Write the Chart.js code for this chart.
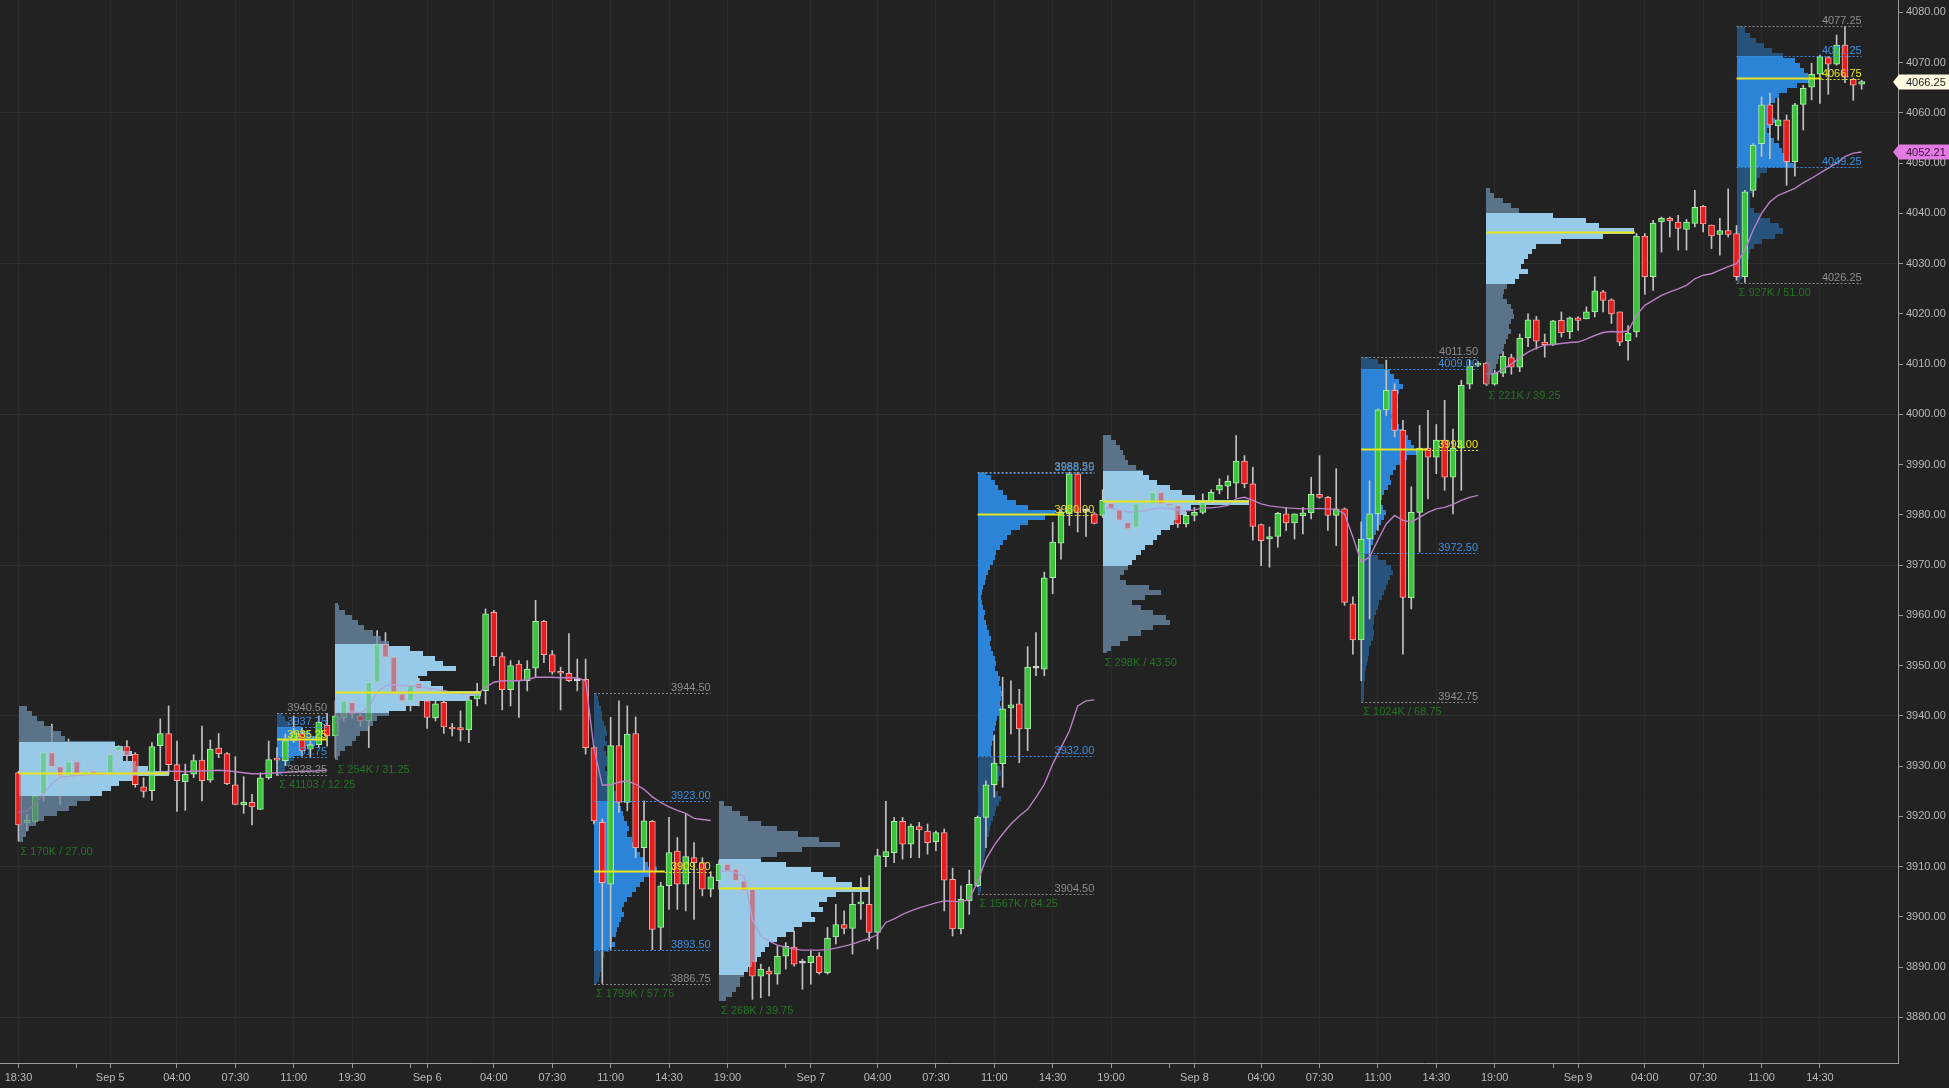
<!DOCTYPE html>
<html>
<head>
<meta charset="utf-8">
<title>ES 30m – volume profile</title>
<script src="https://cdn.jsdelivr.net/npm/chart.js@4.4.1/dist/chart.umd.min.js"></script>
<style>
html,body{margin:0;padding:0;background:#222222;overflow:hidden;}
canvas{display:block;}
</style>
</head>
<body>
<canvas id="c" width="1949" height="1088"></canvas>
<script>
// ---------- candle data (30 min bars, index 0 = Sep 4 18:30) ----------
const openP = [3928.7,3918.7,3919.0,3924.4,3932.7,3929.9,3928.1,3930.9,3928.5,3929.0,
3928.3,3928.7,3933.1,3933.9,3932.4,3925.9,3925.1,3934.1,3936.5,3930.3,
3926.9,3928.4,3931.2,3927.2,3933.6,3932.5,3926.3,3922.3,3922.8,3921.4,
3927.7,3931.6,3931.1,3935.1,3936.5,3933.4,3934.3,3938.2,3936.0,3939.7,
3942.7,3940.0,3939.0,3946.7,3954.3,3951.7,3944.4,3943.0,3946.5,3943.0,
3939.6,3942.7,3937.8,3937.7,3937.2,3943.4,3945.0,3960.6,3951.8,3945.2,
3950.3,3947.0,3949.5,3958.8,3952.2,3948.7,3948.5,3947.0,3947.3,3933.7,
3918.8,3906.5,3934.1,3922.8,3936.5,3913.8,3919.0,3897.9,3906.2,3913.1,
3906.5,3911.8,3910.8,3905.5,3907.2,3910.5,3909.5,3907.2,3905.5,3888.2,
3889.2,3888.6,3892.2,3894.0,3890.9,3890.9,3892.2,3888.9,3896.0,3898.5,
3897.7,3902.6,3902.5,3896.9,3912.0,3912.8,3919.0,3914.5,3918.0,3917.1,
3915.0,3916.8,3907.5,3897.6,3903.2,3906.2,3919.8,3926.3,3930.5,3941.6,
3942.4,3937.4,3949.5,3949.3,3967.5,3974.4,3980.2,3988.2,3980.7,3980.2,
3979.9,3982.3,3981.0,3978.5,3977.5,3982.2,3982.2,3984.5,3982.2,3981.9,
3978.2,3979.9,3980.5,3982.5,3984.9,3985.7,3986.3,3990.7,3986.2,3978.1,
3975.2,3975.7,3980.2,3978.4,3979.8,3980.4,3984.1,3983.5,3979.9,3981.2,
3962.3,3955.1,3975.2,3980.2,4000.9,4004.8,3996.9,3963.5,3980.5,3993.3,
3991.5,3994.9,3987.5,3993.3,4006.0,4009.8,4010.2,4006.0,4008.2,4011.3,
4009.4,4015.2,4018.8,4014.4,4013.9,4018.7,4016.4,4019.2,4019.0,4020.4,
4024.4,4022.8,4020.4,4014.7,4016.4,4035.5,4027.4,4038.3,4039.0,4038.3,
4036.8,4038.0,4041.4,4037.7,4035.8,4036.6,4036.0,4027.4,4044.6,4053.9,
4061.6,4057.4,4058.6,4050.3,4061.7,4065.1,4067.7,4071.0,4069.7,4073.5,
4066.7,4065.7];
const highP = [3929.0,3920.4,3924.4,3933.1,3938.4,3930.4,3935.4,3933.7,3932.0,3930.5,
3929.5,3934.0,3934.1,3935.1,3932.7,3927.7,3934.7,3939.4,3942.0,3935.0,
3930.4,3932.3,3938.0,3935.2,3936.5,3932.7,3931.9,3927.9,3924.4,3928.7,
3935.0,3933.7,3936.4,3940.0,3937.7,3935.0,3940.0,3940.5,3943.0,3944.0,
3943.5,3941.0,3947.5,3957.0,3956.6,3952.2,3946.0,3947.5,3947.5,3943.5,
3943.0,3943.0,3938.5,3941.0,3944.4,3946.5,3961.3,3961.0,3952.6,3951.0,
3951.0,3951.0,3963.0,3959.0,3953.0,3949.7,3956.4,3951.3,3951.3,3934.0,
3919.5,3939.7,3943.0,3942.0,3939.8,3923.1,3919.2,3906.9,3919.8,3915.8,
3920.4,3914.8,3911.8,3909.0,3911.2,3911.5,3910.5,3910.0,3907.5,3890.6,
3890.0,3894.2,3894.9,3897.2,3891.6,3893.2,3892.9,3897.9,3902.5,3901.2,
3904.8,3907.8,3908.2,3913.5,3923.0,3919.8,3919.8,3918.5,3918.8,3918.5,
3917.1,3917.5,3909.7,3906.2,3909.3,3920.1,3927.1,3936.2,3947.7,3947.0,
3945.3,3953.8,3956.6,3968.6,3978.5,3981.2,3988.5,3988.5,3981.2,3980.5,
3985.0,3982.8,3981.5,3979.0,3984.8,3983.5,3986.2,3985.5,3983.5,3983.0,
3980.5,3981.5,3984.2,3985.0,3987.2,3987.8,3995.8,3991.8,3989.5,3978.2,
3977.6,3980.5,3981.5,3980.2,3981.5,3987.5,3991.8,3983.7,3989.2,3981.4,
3963.7,3978.6,3986.8,4001.1,4010.8,4006.1,3998.8,3985.6,3997.8,4000.8,
3998.0,4002.8,3997.1,4006.8,4010.8,4010.5,4010.4,4008.8,4012.5,4012.0,
4016.0,4020.0,4019.5,4016.0,4018.7,4020.4,4019.4,4019.4,4021.4,4027.4,
4024.7,4023.0,4020.4,4017.7,4036.0,4036.0,4038.6,4039.3,4039.3,4039.6,
4038.8,4044.6,4041.6,4037.7,4039.0,4044.9,4037.6,4044.6,4053.9,4063.2,
4063.9,4062.9,4059.6,4061.9,4065.5,4069.9,4071.5,4071.2,4075.5,4077.25,
4066.9,4066.5];
const lowP = [3915.1,3917.1,3918.8,3923.0,3927.7,3922.4,3927.0,3927.0,3926.5,3927.5,
3927.2,3928.1,3929.7,3931.1,3925.8,3923.8,3923.2,3928.4,3928.4,3921.0,
3921.2,3927.7,3923.1,3926.8,3931.7,3926.3,3922.3,3920.6,3918.3,3921.4,
3927.4,3928.1,3930.1,3934.7,3932.0,3931.7,3933.7,3934.0,3931.7,3939.0,
3939.5,3938.0,3933.7,3946.3,3949.7,3944.0,3942.0,3941.0,3942.0,3937.5,
3939.0,3936.5,3936.0,3935.0,3934.7,3942.0,3942.4,3950.0,3941.2,3942.0,
3939.7,3945.0,3947.7,3950.6,3948.3,3941.2,3946.8,3945.0,3932.4,3918.5,
3886.75,3893.5,3920.8,3921.1,3911.8,3909.2,3893.5,3893.5,3901.5,3901.5,
3901.2,3899.5,3904.2,3904.0,3905.5,3908.0,3904.2,3904.2,3883.6,3883.9,
3884.3,3886.6,3889.6,3890.2,3885.6,3886.6,3888.6,3888.6,3894.6,3896.6,
3892.6,3899.5,3895.2,3893.6,3910.0,3910.8,3911.5,3911.8,3911.8,3912.5,
3913.2,3901.2,3896.2,3896.6,3900.5,3906.0,3913.8,3923.8,3925.8,3936.4,
3930.7,3933.1,3948.0,3948.0,3964.3,3971.2,3977.9,3976.6,3975.7,3978.2,
3979.5,3978.9,3978.2,3975.9,3975.9,3981.0,3981.8,3981.5,3980.5,3977.5,
3977.6,3978.8,3980.2,3982.2,3984.2,3983.2,3983.5,3985.4,3975.0,3969.9,
3969.6,3973.6,3976.9,3975.2,3976.2,3979.2,3983.3,3976.9,3973.9,3962.0,
3952.3,3947.0,3959.3,3976.9,3999.8,3995.5,3952.3,3961.3,3972.6,3983.2,
3988.2,3984.9,3980.2,3984.9,4005.1,4009.5,4005.8,4005.8,4007.5,4008.0,
4008.5,4013.5,4013.0,4011.4,4013.7,4015.4,4015.1,4016.7,4019.0,4019.4,
4020.4,4018.1,4013.7,4010.8,4015.4,4023.9,4024.7,4032.3,4035.3,4032.7,
4032.7,4037.3,4036.3,4033.0,4031.7,4035.3,4026.7,4026.25,4043.3,4051.3,
4050.9,4054.6,4045.6,4047.4,4056.6,4062.6,4061.9,4063.7,4069.5,4066.0,
4062.5,4064.7];
const closeP = [3918.3,3919.2,3924.1,3932.7,3929.9,3928.1,3930.9,3928.5,3929.0,3928.3,
3928.6,3932.3,3933.9,3932.1,3926.3,3925.0,3933.9,3936.5,3930.3,3927.1,
3928.4,3931.1,3927.1,3933.4,3932.5,3926.5,3922.4,3922.8,3921.9,3927.7,
3931.3,3931.2,3935.1,3936.7,3933.1,3934.3,3938.7,3936.0,3940.0,3943.0,
3940.4,3939.0,3946.7,3954.3,3951.7,3944.4,3943.0,3946.3,3945.4,3939.7,
3942.4,3937.8,3937.4,3937.2,3943.2,3944.7,3960.3,3951.8,3945.2,3950.0,
3947.0,3949.3,3958.8,3952.2,3948.7,3948.5,3947.0,3947.1,3933.7,3919.1,
3906.8,3934.1,3922.8,3936.4,3913.8,3919.1,3897.5,3906.2,3912.8,3906.5,
3912.0,3910.8,3905.5,3908.0,3910.5,3909.2,3907.2,3905.2,3888.2,3889.6,
3888.6,3892.2,3894.2,3890.6,3890.8,3892.2,3888.9,3895.8,3898.5,3897.7,
3902.5,3902.8,3896.9,3912.2,3913.0,3919.0,3914.5,3918.1,3917.3,3914.8,
3916.8,3907.3,3897.6,3903.5,3906.5,3919.8,3926.3,3930.6,3941.4,3942.2,
3937.4,3949.7,3949.6,3967.5,3974.6,3980.5,3988.2,3980.5,3980.8,3978.3,
3982.9,3981.2,3978.9,3977.2,3982.2,3982.5,3984.5,3982.2,3981.9,3978.2,
3979.9,3980.5,3982.5,3984.5,3985.9,3986.7,3990.7,3986.2,3977.7,3974.9,
3975.7,3980.3,3978.4,3980.2,3980.4,3984.1,3983.5,3979.9,3981.2,3962.6,
3955.1,3975.2,3980.2,4000.9,4004.8,3996.8,3963.6,3980.5,3993.3,3991.5,
3994.9,3987.5,3993.3,4005.8,4009.6,4010.0,4006.0,4008.2,4011.6,4009.4,
4015.2,4018.8,4014.6,4013.9,4018.6,4016.2,4019.2,4018.7,4020.4,4024.6,
4022.7,4020.0,4014.4,4016.2,4035.5,4027.4,4038.1,4039.0,4038.5,4037.0,
4038.3,4041.2,4037.9,4035.5,4036.6,4035.8,4027.4,4044.3,4053.6,4061.6,
4057.6,4058.6,4050.3,4061.6,4064.9,4067.7,4071.2,4069.7,4073.5,4067.1,
4065.5,4066.25];

// ---------- session VWAP (resets at each Globex session start) ----------
const vwapSessionStart = [0, 38, 84, 130, 176];
const vwap = [3920.8,3921.1,3922.5,3924.5,3926.5,3927.8,3928.0,3928.2,3928.3,3928.4,
3928.4,3928.5,3928.6,3928.7,3928.6,3928.5,3928.6,3928.8,3929.0,3929.0,
3928.9,3929.0,3929.1,3929.1,3929.2,3929.1,3928.9,3928.7,3928.5,3928.5,
3928.6,3928.7,3928.8,3928.9,3929.0,3929.0,3929.1,3929.2,
3938.5,3940.4,3940.8,3940.6,3941.7,3944.7,3946.0,3946.2,3946.0,3946.0,
3946.0,3945.5,3945.3,3945.0,3944.7,3944.4,3944.3,3944.3,3945.7,3946.7,
3947.0,3947.0,3947.0,3947.2,3947.7,3947.7,3947.7,3947.6,3947.6,3947.6,
3947.0,3933.5,3926.2,3926.3,3926.8,3927.1,3926.4,3925.4,3923.9,3922.8,
3921.9,3921.2,3920.6,3919.6,3919.4,3919.2,
3909.0,3909.2,3908.8,3908.0,3899.5,3896.2,3895.2,3894.4,3894.0,3893.6,
3893.4,3893.4,3893.4,3893.5,3893.8,3894.2,3894.6,3895.2,3895.7,3896.5,
3898.9,3899.6,3900.5,3901.2,3901.8,3902.3,3902.8,3903.2,3903.1,3903.0,
3903.5,3907.0,3911.5,3914.3,3916.5,3918.5,3920.1,3921.4,3923.8,3926.4,
3930.4,3933.7,3937.0,3942.0,3943.0,3943.2,
3981.5,3981.3,3981.0,3980.6,3980.6,3980.8,3981.2,3981.4,3981.3,3981.0,
3980.8,3981.0,3981.4,3981.4,3981.6,3981.9,3983.2,3983.5,3982.9,3982.2,
3981.8,3981.6,3981.4,3981.3,3981.2,3981.2,3981.3,3981.2,3981.1,3980.2,
3975.6,3970.6,3971.6,3975.0,3978.2,3979.9,3978.9,3978.6,3979.5,3980.5,
3981.2,3981.5,3982.1,3982.9,3983.5,3983.9,
4008.0,4008.1,4009.0,4010.0,4011.3,4012.4,4013.2,4013.8,4013.9,4014.1,
4014.3,4014.4,4015.0,4015.7,4016.3,4016.5,4016.4,4016.6,4019.7,4021.7,
4022.7,4023.7,4024.4,4025.0,4025.7,4027.0,4027.7,4028.0,4028.7,4029.4,
4030.0,4032.7,4036.7,4040.0,4042.3,4043.6,4044.3,4045.0,4046.1,4047.0,
4048.0,4049.0,4050.0,4051.3,4052.0,4052.21];

// ---------- x axis tick labels ----------
const tickIdx = [0,11,19,26,33,40,49,57,64,71,78,85,95,103,110,117,124,131,141,149,156,163,170,177,187,195,202,209,216];
const tickTxt = ['18:30','Sep 5','04:00','07:30','11:00','19:30','Sep 6','04:00','07:30','11:00','14:30','19:00','Sep 7','04:00','07:30','11:00','14:30','19:00','Sep 8','04:00','07:30','11:00','14:30','19:00','Sep 9','04:00','07:30','11:00','14:30'];
const minorTickIdx = [7,47,92,138,184];
const yTickValues = [3880,3890,3900,3910,3920,3930,3940,3950,3960,3970,3980,3990,4000,4010,4020,4030,4040,4050,4060,4070,4080];

// ---------- volume profiles: relative widths of 1-point price bins, from the top bin down ----------
const prof1 = [1.0,1.5,2.2,3.0,4.0,5.0,5.5,11.5,12.5,13.5,12.5,14.0,15.5,18.0,13.5,12.0,11.0,10.0,8.5,7.0,6.0,4.5,3.0,2.0,1.2,0.8,0.5];
const prof2 = [0.6,1.0,1.6,3.0,4.0,5.0,4.5,3.5,3.0,2.0,1.5,1.0,0.6];
const prof3 = [0.3,0.5,1.2,2.0,2.8,3.5,4.5,5.5,6.5,9.0,10.5,12.0,13.0,14.5,11.0,10.0,11.5,13.0,17.5,16.0,10.0,8.5,6.5,5.0,4.5,4.0,3.0,2.5,2.0,1.2,0.6,0.3];
const prof4 = [0.3,0.5,0.6,0.8,0.9,1.0,1.2,1.4,1.6,1.3,1.5,1.2,1.4,1.6,1.5,1.3,1.6,1.8,2.0,2.3,2.6,2.8,3.0,3.2,3.5,3.6,3.9,4.2,4.0,4.5,4.8,5.2,5.5,6.0,6.5,7.5,7.0,6.0,5.5,5.0,4.5,4.0,3.6,3.3,3.6,3.2,3.0,2.8,2.6,2.2,2.5,1.8,1.2,1.0,0.9,0.8,0.7,0.6,0.4];
const prof5 = [0.6,1.5,2.5,3.5,5.0,7.0,9.5,12.0,14.5,10.0,7.0,5.0,8.0,11.0,12.5,14.0,16.0,18.0,14.0,13.0,12.0,12.5,11.0,11.5,10.0,9.0,8.0,7.0,6.0,5.5,5.0,4.5,4.0,3.5,3.0,2.5,2.5,2.0,1.5,0.8];
const prof6 = [1.0,1.5,2.0,2.4,3.0,3.5,4.5,6.0,9.2,8.0,6.0,5.0,4.0,3.5,3.0,2.6,2.2,2.0,1.8,1.4,1.2,1.0,0.8,0.6,0.5,0.4,0.5,0.6,0.8,0.7,0.9,1.1,1.3,1.5,1.4,1.6,1.8,2.0,2.2,2.0,2.4,2.6,2.5,2.8,3.0,2.8,2.6,2.8,2.5,2.3,2.2,2.0,1.8,1.9,1.7,1.5,1.6,1.8,2.2,2.6,2.8,2.5,2.2,2.0,2.4,2.8,2.5,2.2,2.0,1.8,1.6,1.4,1.3,1.1,1.0,0.9,0.8,0.7,0.6,0.5,0.5,0.4,0.4,0.3,0.2];
const prof7 = [1.0,1.5,2.0,2.4,2.6,3.0,4.0,4.8,5.5,6.5,8.0,9.5,11.0,17.5,10.5,10.0,9.0,8.5,8.0,7.0,6.5,6.0,5.0,4.5,4.0,3.5,3.0,2.5,2.0,2.8,5.5,7.0,5.0,3.5,4.5,6.0,7.5,8.0,6.0,4.5,3.0,2.0,1.0,0.5];
const prof8 = [1.0,2.0,2.8,3.5,4.0,4.5,5.0,4.6,4.2,4.0,4.4,4.0,3.6,4.0,4.6,5.2,5.6,6.0,6.4,7.0,5.5,4.8,4.2,3.8,3.5,3.6,3.2,2.8,2.5,2.2,2.6,3.0,2.8,2.4,2.0,1.8,1.6,1.4,1.2,1.0,2.0,3.0,3.6,3.8,3.5,3.2,3.0,2.8,2.5,2.2,2.0,1.8,1.6,1.5,1.4,1.6,1.4,1.2,1.0,0.9,0.8,0.7,0.6,0.5,0.5,0.4,0.4,0.3,0.3,0.2];
const prof9 = [0.5,1.0,2.0,3.0,4.0,8.0,12.0,13.5,17.8,14.0,9.0,6.0,5.5,5.0,4.5,4.2,5.0,4.0,3.5,2.5,2.2,2.0,2.5,3.0,3.2,3.4,3.0,2.8,3.0,2.6,2.4,2.2,2.0,1.6,1.4,1.2,0.8,0.5,0.4,0.2];
const prof10 = [0.5,1.0,1.5,2.3,3.2,4.2,5.5,7.0,7.6,8.0,8.5,9.2,7.2,6.0,5.0,4.5,4.0,3.8,4.2,4.6,4.0,3.6,3.8,4.4,5.0,5.4,5.8,6.4,6.8,3.6,2.8,2.4,2.0,1.8,1.6,1.5,1.6,2.0,2.8,4.0,5.0,5.5,4.5,3.0,2.0,1.6,1.4,1.2,1.0,0.8,0.6,0.4];

const profileStart = [0, 31, 38, 69, 84, 115, 130, 161, 176, 206];
const profileEnd   = [30, 37, 68, 83, 114, 129, 160, 175, 205, 221];
const profileRth   = [false, true, false, true, false, true, false, true, false, true];
const profileHigh  = [3942, 3940.5, 3962.5, 3944.5, 3923, 3988.5, 3996, 4011.5, 4045, 4077.25];
const profileLow   = [3915, 3928.25, 3931.25, 3886.75, 3883.25, 3904.5, 3952.5, 3942.75, 4005.75, 4026.25];
const profileBinTop= [3942, 3941, 3963, 3945, 3923, 3989, 3996, 4012, 4045, 4078];
const profileVAH   = [3934.75, 3937.75, 3954.25, 3923, 3911.5, 3988.25, 3988.75, 4009, 4040, 4071.25];
const profileVAL   = [3924, 3931.75, 3940.5, 3893.5, 3888.5, 3932, 3969.75, 3972.5, 4026, 4049.25];
const profilePOC   = [3928.5, 3935.25, 3944.75, 3909, 3905.75, 3980, 3982.75, 3993, 4036.25, 4066.75];
const profileSum   = ['Σ 170K / 27.00','Σ 41103 / 12.25','Σ 254K / 31.25','Σ 1799K / 57.75','Σ 268K / 39.75','Σ 1567K / 84.25','Σ 298K / 43.50','Σ 1024K / 68.75','Σ 221K / 39.25','Σ 927K / 51.00'];
const profileBins  = [prof1, prof2, prof3, prof4, prof5, prof6, prof7, prof8, prof9, prof10];

// ---------- styling ----------
const FONT_FAMILY = '"Liberation Sans", Arial, sans-serif';
const UP = '#3cc43c', UP_EDGE = '#aef0ae';
const DOWN = '#e61e1e', DOWN_EDGE = '#f5a8a8';
const DOJI = '#dddddd';
const WICK = '#c2c2c2';
const ON_VA = '#98c9e9', ON_OUT = '#5b7388';
const RTH_VA = '#2b84d8', RTH_OUT = '#26527c';
const POC_COL = '#e6e61a';
const HL_COL = '#8d8d8d', VA_COL = '#3b8fe2';
const SUM_COL = '#237523';
const VWAP_COL = '#bb7fc6';

const X_MIN = -18.5 / 8.34, X_MAX = (1898 - 18.5) / 8.34;
const Y_MIN = 3870.93, Y_MAX = 4082.47;

const N = closeP.length;
const idx = Array.from({length: N}, (_, i) => i);
const bodyColor = idx.map(i => Math.abs(closeP[i]-openP[i]) < 0.15 ? DOJI : (closeP[i] > openP[i] ? UP : DOWN));
const edgeColor = idx.map(i => Math.abs(closeP[i]-openP[i]) < 0.15 ? DOJI : (closeP[i] > openP[i] ? UP_EDGE : DOWN_EDGE));

const datasets = [
  { type:'bar', label:'wick', data: idx.map(i => ({x:i, y:[lowP[i], highP[i]]})),
    backgroundColor: WICK, barThickness: 1, grouped: false, order: 3, minBarLength: 1 },
  { type:'bar', label:'body', data: idx.map(i => ({x:i, y:[openP[i], closeP[i]]})),
    backgroundColor: bodyColor, borderColor: edgeColor, borderWidth: 1, borderSkipped: false,
    barThickness: 6, grouped: false, order: 2, minBarLength: 2 }
];
vwapSessionStart.forEach((s, k) => {
  const e = k + 1 < vwapSessionStart.length ? vwapSessionStart[k+1] : N;
  const pts = [];
  for (let i = s; i < e; i++) pts.push({x:i, y:vwap[i]});
  datasets.push({ type:'line', label:'vwap'+k, data: pts, borderColor: VWAP_COL, borderWidth: 1.4,
    pointRadius: 0, tension: 0, fill: false, order: 1 });
});

// ---------- profile drawing plugin (uses the chart's scales) ----------
function xpx(chart, v){ return chart.scales.x.getPixelForValue(v); }
function ypx(chart, v){ return chart.scales.y.getPixelForValue(v); }

function drawProfile(chart, p, alpha){
  const ctx = chart.ctx;
  const x0 = xpx(chart, profileStart[p]);
  const unit = xpx(chart, profileStart[p] + 1) - x0;
  const rth = profileRth[p];
  const hiP = profileHigh[p], loP = profileLow[p], vah = profileVAH[p], val = profileVAL[p];
  ctx.save();
  ctx.globalAlpha = alpha;
  profileBins[p].forEach((w, k) => {
    let top = Math.min(profileBinTop[p] - k, hiP);
    let bot = Math.max(profileBinTop[p] - k - 1, loP);
    if (top <= bot) return;
    const cuts = [top];
    [vah, val].forEach(c => { if (c < top && c > bot) cuts.push(c); });
    cuts.push(bot);
    cuts.sort((a,b) => b-a);
    for (let j = 0; j < cuts.length - 1; j++) {
      const a = cuts[j], b = cuts[j+1];
      const mid = (a + b) / 2;
      const inVA = mid <= vah && mid >= val;
      ctx.fillStyle = rth ? (inVA ? RTH_VA : RTH_OUT) : (inVA ? ON_VA : ON_OUT);
      const y1 = Math.round(ypx(chart, a)), y2 = Math.round(ypx(chart, b));
      ctx.fillRect(Math.round(x0), y1, Math.max(1, Math.round(w * unit)), y2 - y1);
    }
  });
  ctx.restore();
}

function hline(ctx, x1, x2, y, color, width, dash){
  ctx.save();
  ctx.strokeStyle = color; ctx.lineWidth = width; ctx.setLineDash(dash || []);
  ctx.beginPath(); ctx.moveTo(x1, Math.round(y) + 0.5); ctx.lineTo(x2, Math.round(y) + 0.5); ctx.stroke();
  ctx.restore();
}

function drawDecor(chart, p){
  const ctx = chart.ctx;
  const x0 = xpx(chart, profileStart[p]);
  const x1 = xpx(chart, profileEnd[p]);
  const unit = xpx(chart, profileStart[p] + 1) - x0;
  const maxW = Math.max.apply(null, profileBins[p]);
  ctx.save();
  ctx.font = '11px ' + FONT_FAMILY;
  if (profileRth[p]) {
    hline(ctx, x0, x1, ypx(chart, profileHigh[p]), HL_COL, 1, [2,2]);
    hline(ctx, x0, x1, ypx(chart, profileLow[p]), HL_COL, 1, [2,2]);
    hline(ctx, x0, x1, ypx(chart, profileVAH[p]), VA_COL, 1, [2,2]);
    hline(ctx, x0, x1, ypx(chart, profileVAL[p]), VA_COL, 1, [2,2]);
    const xs = Math.min(x1, x0 + (maxW + 1) * unit);
    hline(ctx, x0, xs, ypx(chart, profilePOC[p]) - 0.5, POC_COL, 2);
    hline(ctx, xs, x1, ypx(chart, profilePOC[p]), POC_COL, 1, [2,2]);
    ctx.textAlign = 'right'; ctx.textBaseline = 'alphabetic';
    const lab = (v, c) => { ctx.fillStyle = c; ctx.fillText(v.toFixed(2), x1, Math.round(ypx(chart, v)) - 2); };
    lab(profileHigh[p], HL_COL);
    lab(profileLow[p], HL_COL);
    lab(profileVAH[p], VA_COL);
    lab(profileVAL[p], VA_COL);
    lab(profilePOC[p], POC_COL);
  } else {
    hline(ctx, x0, x0 + maxW * unit, ypx(chart, profilePOC[p]) - 0.5, POC_COL, 2);
  }
  ctx.textAlign = 'left'; ctx.textBaseline = 'middle';
  ctx.fillStyle = SUM_COL;
  ctx.fillText(profileSum[p], x0 + 2, ypx(chart, profileLow[p]) + 10);
  ctx.restore();
}

const profilePlugin = {
  id: 'volumeProfiles',
  beforeDatasetsDraw(chart){
    const ca = chart.chartArea, ctx = chart.ctx;
    ctx.save(); ctx.beginPath(); ctx.rect(ca.left, ca.top, ca.right-ca.left, ca.bottom-ca.top); ctx.clip();
    for (let p = 0; p < profileStart.length; p++) drawProfile(chart, p, 1);
    ctx.restore();
  },
  afterDatasetsDraw(chart){
    const ca = chart.chartArea, ctx = chart.ctx;
    ctx.save(); ctx.beginPath(); ctx.rect(ca.left, ca.top, ca.right-ca.left, ca.bottom-ca.top); ctx.clip();
    for (let p = 0; p < profileStart.length; p++) if (!profileRth[p]) drawProfile(chart, p, 0.55);
    for (let p = 0; p < profileStart.length; p++) drawDecor(chart, p);
    ctx.restore();
  }
};

function marker(chart, value, text, bg, fg){
  const ctx = chart.ctx;
  const y = Math.round(ypx(chart, value));
  const xr = chart.width, xl = chart.chartArea.right - 5, h = 15;
  ctx.save();
  ctx.fillStyle = bg;
  ctx.beginPath();
  ctx.moveTo(xl, y);
  ctx.lineTo(xl + 6, y - h/2);
  ctx.lineTo(xr, y - h/2);
  ctx.lineTo(xr, y + h/2);
  ctx.lineTo(xl + 6, y + h/2);
  ctx.closePath();
  ctx.fill();
  ctx.fillStyle = fg;
  ctx.font = '11px ' + FONT_FAMILY;
  ctx.textAlign = 'left'; ctx.textBaseline = 'middle';
  ctx.fillText(text, chart.chartArea.right + 8, y + 0.5);
  ctx.restore();
}

const markerPlugin = {
  id: 'priceMarkers',
  afterDraw(chart){
    marker(chart, closeP[N-1], closeP[N-1].toFixed(2), '#fffbe3', '#1d1d1d');
    marker(chart, vwap[N-1], vwap[N-1].toFixed(2), '#e27be2', '#3c0a3c');
  }
};

const allTicks = tickIdx.concat(minorTickIdx).sort((a,b) => a-b);

new Chart(document.getElementById('c'), {
  type: 'bar',
  data: { datasets },
  options: {
    responsive: false,
    animation: false,
    events: [],
    layout: { padding: 0, autoPadding: false },
    plugins: { legend: { display: false }, tooltip: { enabled: false } },
    scales: {
      x: {
        type: 'linear', min: X_MIN, max: X_MAX, offset: false,
        grid: { offset: false, color: c => (c.tick && tickIdx.indexOf(c.tick.value) >= 0) ? '#2b2b2b' : 'rgba(0,0,0,0)',
                tickColor: '#9a9a9a', tickLength: 5, drawTicks: true },
        border: { display: true, color: '#9a9a9a', width: 1 },
        ticks: {
          autoSkip: false, maxRotation: 0, minRotation: 0, padding: 3, color: '#b9b9b9',
          font: { family: FONT_FAMILY, size: 11 },
          callback: v => { const k = tickIdx.indexOf(v); return k >= 0 ? tickTxt[k] : ''; }
        },
        afterBuildTicks: s => { s.ticks = allTicks.map(v => ({ value: v })); },
        afterFit: s => { s.height = 25; s.paddingLeft = 0; s.paddingRight = 0; }
      },
      y: {
        type: 'linear', position: 'right', min: Y_MIN, max: Y_MAX, beginAtZero: false,
        grid: { color: c => (c.tick && Math.round(c.tick.value - 3880) % 30 === 0) ? '#2f2f2f' : 'rgba(0,0,0,0)',
                tickColor: '#9a9a9a', tickLength: 5, drawTicks: true },
        border: { display: true, color: '#9a9a9a', width: 1 },
        ticks: { padding: 3, color: '#b9b9b9', font: { family: FONT_FAMILY, size: 11 },
                 callback: v => Number(v).toFixed(2) },
        afterBuildTicks: s => { s.ticks = yTickValues.map(v => ({ value: v })); },
        afterFit: s => { s.width = 51; s.paddingTop = 0; s.paddingBottom = 0; }
      }
    }
  },
  plugins: [profilePlugin, markerPlugin]
});
</script>
</body>
</html>
